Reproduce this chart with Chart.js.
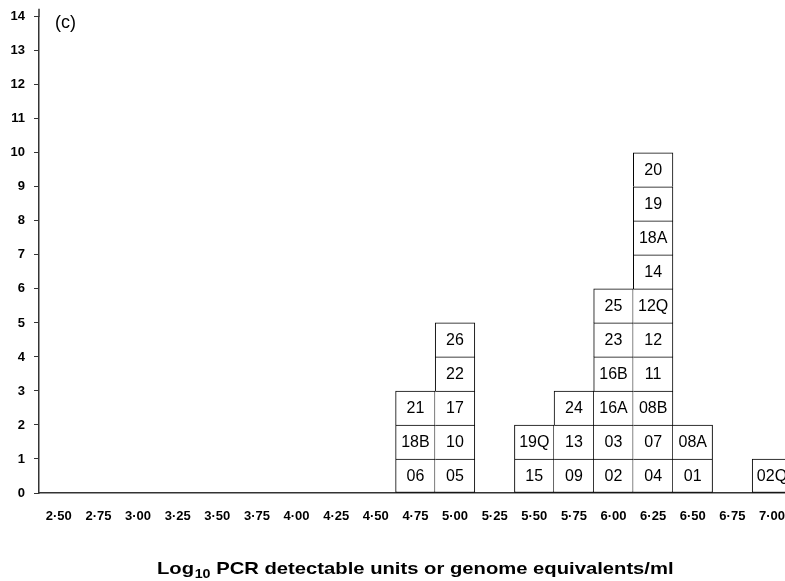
<!DOCTYPE html>
<html>
<head>
<meta charset="utf-8">
<script src="https://cdn.jsdelivr.net/npm/chart.js@4/dist/chart.umd.min.js"></script>
<style>
  html, body { margin: 0; padding: 0; background: #fff; overflow: hidden; }
  canvas { display: block; }
</style>
</head>
<body>
<canvas id="c" width="801" height="581" style="width:801px;height:581px"></canvas>
<script>
const categories = ['2·50','2·75','3·00','3·25','3·50','3·75','4·00','4·25','4·50','4·75','5·00','5·25','5·50','5·75','6·00','6·25','6·50','6·75','7·00'];
const counts = [0,0,0,0,0,0,0,0,0,3,5,0,2,3,6,10,2,0,1];
const boxLabels = [
  [],[],[],[],[],[],[],[],[],
  ['06','18B','21'],
  ['05','10','17','22','26'],
  [],
  ['15','19Q'],
  ['09','13','24'],
  ['02','03','16A','16B','23','25'],
  ['04','07','08B','11','12','12Q','14','18A','19','20'],
  ['01','08A'],
  [],
  ['02Q']
];
const yTicks = [0,1,2,3,4,5,6,7,8,9,10,11,12,13,14];
const panelLabel = '(c)';
const axisTitleMain = 'Log';
const axisTitleSub = '10';
const axisTitleRest = ' PCR detectable units or genome equivalents/ml';

const FONT = '"Liberation Sans", Arial, Helvetica, sans-serif';
const maxLevel = Math.max(...counts);

const datasets = [];
for (let k = 0; k < maxLevel; k++) {
  datasets.push({
    data: counts.map(c => (c > k ? 1 : null)),
    backgroundColor: '#ffffff',
    borderColor: '#000000',
    borderSkipped: false,
    borderWidth: (ctx) => {
      const i = ctx.dataIndex;
      const leftEmpty = i === 0 || counts[i - 1] <= k;
      return { top: 1, right: 1, bottom: k === 0 ? 1 : 0, left: leftEmpty ? 1 : 0 };
    },
    categoryPercentage: 1,
    barPercentage: 1,
    stack: 's'
  });
}

const boxTextPlugin = {
  id: 'boxText',
  afterDatasetsDraw(chart) {
    const ctx = chart.ctx;
    ctx.save();
    ctx.fillStyle = '#000';
    ctx.font = '16px ' + FONT;
    ctx.textAlign = 'center';
    ctx.textBaseline = 'middle';
    chart.data.datasets.forEach((ds, k) => {
      const meta = chart.getDatasetMeta(k);
      meta.data.forEach((el, i) => {
        const lab = boxLabels[i][k];
        if (!lab || ds.data[i] == null) return;
        const cy = (el.y + el.base) / 2;
        ctx.fillText(lab, el.x, cy + 1);
      });
    });
    ctx.restore();
  }
};

const extraTextPlugin = {
  id: 'extraText',
  afterDraw(chart) {
    const ctx = chart.ctx;
    const area = chart.chartArea;
    ctx.save();
    // short extension of the y axis line above the top tick
    ctx.strokeStyle = '#333';
    ctx.lineWidth = 1.5;
    ctx.beginPath();
    ctx.moveTo(area.left, area.top);
    ctx.lineTo(area.left, area.top - 8);
    ctx.stroke();

    ctx.fillStyle = '#000';
    // panel label
    ctx.font = '18px ' + FONT;
    ctx.textAlign = 'left';
    ctx.textBaseline = 'alphabetic';
    ctx.fillText(panelLabel, 55, 28);
    // axis title with subscript, stretched to the reference width
    const big = 'bold 17px ' + FONT;
    const small = 'bold 12px ' + FONT;
    ctx.font = big;
    const w1 = ctx.measureText(axisTitleMain).width;
    const w3 = ctx.measureText(axisTitleRest).width;
    ctx.font = small;
    const w2 = ctx.measureText(axisTitleSub).width;
    const total = w1 + w2 + w3;
    const target = 516;
    const sx = target / total;
    const left = 157;
    const base = 574;
    ctx.translate(left, base);
    ctx.scale(sx, 1);
    let x = 0;
    ctx.font = big;
    ctx.fillText(axisTitleMain, x, 0);
    x += w1;
    ctx.font = small;
    ctx.fillText(axisTitleSub, x + 0.5, 4);
    x += w2 + 0.5;
    ctx.font = big;
    ctx.fillText(axisTitleRest, x, 0);
    ctx.restore();
  }
};

new Chart(document.getElementById('c'), {
  type: 'bar',
  data: { labels: categories, datasets },
  options: {
    responsive: false,
    animation: false,
    layout: { padding: { top: 11, right: 0, bottom: 0, left: 0 } },
    plugins: { legend: { display: false }, tooltip: { enabled: false } },
    scales: {
      x: {
        stacked: true,
        offset: true,
        grid: { display: false, drawTicks: false },
        border: { display: true, color: '#333', width: 1.5 },
        ticks: {
          color: '#000',
          font: { family: FONT, size: 13, weight: 'bold' },
          padding: 16,
          maxRotation: 0,
          autoSkip: false
        },
        afterFit(scale) { scale.height = 88; }
      },
      y: {
        stacked: true,
        min: 0,
        max: 14,
        afterBuildTicks(scale) { scale.ticks = yTicks.map(v => ({ value: v })); },
        grid: { display: true, drawOnChartArea: false, drawTicks: true, tickLength: 5, color: '#333' },
        border: { display: true, color: '#333', width: 1.5 },
        ticks: {
          color: '#000',
          font: { family: FONT, size: 13, weight: 'bold' },
          padding: 9
        },
        afterFit(scale) { scale.width = 39; }
      }
    }
  },
  plugins: [boxTextPlugin, extraTextPlugin]
});
</script>
</body>
</html>
